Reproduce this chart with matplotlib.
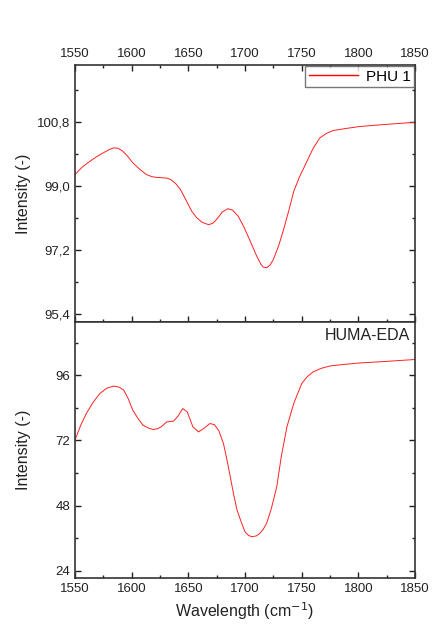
import numpy as np
import matplotlib.pyplot as plt
from matplotlib.ticker import MultipleLocator, FuncFormatter

plt.rcParams['font.family'] = ['Liberation Sans', 'DejaVu Sans']

#Espectro PHU 1
phu_x = [1550, 1556, 1563, 1569, 1575, 1580, 1584, 1588, 1592, 1596, 1601, 1607, 1613, 1618, 1622, 1627,
         1631, 1635, 1639, 1643, 1648, 1653, 1657, 1662, 1668, 1672, 1676, 1680, 1685, 1689, 1694,
         1699, 1704, 1710, 1714, 1716, 1719, 1722, 1725, 1730, 1734, 1739, 1743, 1748, 1754, 1760,
         1766, 1772, 1778, 1790, 1801, 1820, 1850]
phu_y = [99.32, 99.52, 99.69, 99.82, 99.93, 100.02, 100.07, 100.06, 99.98, 99.85, 99.65, 99.47, 99.32,
         99.26, 99.24, 99.23, 99.22, 99.17, 99.06, 98.90, 98.60, 98.29, 98.12, 97.98, 97.91, 97.96,
         98.10, 98.27, 98.36, 98.32, 98.15, 97.85, 97.49, 97.05, 96.80, 96.72, 96.70, 96.77, 96.93,
         97.35, 97.77, 98.35, 98.85, 99.25, 99.65, 100.05, 100.35, 100.48, 100.56, 100.62, 100.67,
         100.72, 100.79]

#Espectro HUMA-EDA
huma_x = [1550, 1555, 1560, 1566, 1572, 1578, 1584, 1589, 1593, 1597, 1601, 1606, 1610, 1615, 1619,
          1623, 1626, 1631, 1637, 1641, 1645, 1649, 1654, 1659, 1664, 1669, 1673, 1677, 1681, 1684,
          1687, 1690, 1693, 1697, 1700, 1703, 1706, 1710, 1713, 1716, 1719, 1723, 1728, 1732, 1737,
          1743, 1750, 1755, 1760, 1767, 1775, 1788, 1801, 1825, 1850]
huma_y = [72.1, 77.5, 81.9, 86.0, 89.3, 91.2, 92.0, 91.6, 90.5, 87.3, 83.1, 79.8, 77.6, 76.5, 76.0,
          76.3, 77.0, 78.8, 79.1, 81.0, 83.7, 82.5, 77.0, 75.1, 76.5, 78.2, 77.8, 75.5, 70.8, 65.0,
          58.6, 52.0, 46.3, 41.5, 38.3, 37.0, 36.5, 36.8, 37.7, 39.2, 41.4, 46.5, 54.9, 66.0, 77.0,
          85.6, 92.9, 95.5, 97.2, 98.5, 99.4, 100.0, 100.5, 101.1, 101.8]

xticks = [1550, 1600, 1650, 1700, 1750, 1800, 1850]

fig = plt.figure(figsize=(4.48, 6.36), dpi=100)
ax1 = fig.add_axes([0.1674, 0.4937, 0.759, 0.4041])
ax2 = fig.add_axes([0.1674, 0.0912, 0.759, 0.4025])

ax1.plot(phu_x, phu_y, color='#ff2020', lw=0.7, label='PHU 1')
ax2.plot(huma_x, huma_y, color='#ff2020', lw=0.7)

for ax in (ax1, ax2):
    ax.set_xlim(1550, 1850)
    ax.set_xticks(xticks)
    ax.xaxis.set_minor_locator(MultipleLocator(25))
    ax.tick_params(which='both', direction='in', labelsize=9.5, width=1, colors='#222222')
    ax.tick_params(which='major', length=4)
    ax.tick_params(which='minor', length=2.5)
    for s in ax.spines.values():
        s.set_linewidth(1.2)
        s.set_color('#333333')
    ax.set_ylabel('Intensity (-)', fontsize=11.5, color='#222222')
    ax.yaxis.set_label_coords(-0.13, 0.5)

#Panel superior
ax1.set_ylim(95.175, 102.4)
ax1.set_yticks([95.4, 97.2, 99.0, 100.8])
ax1.yaxis.set_minor_locator(MultipleLocator(0.9))
ax1.yaxis.set_major_formatter(FuncFormatter(lambda v, p: ('%.1f' % v).replace('.', ',')))
ax1.tick_params(which='both', top=True, bottom=True, right=True, labeltop=True, labelbottom=False)
leg = ax1.legend(loc='upper right', fontsize=11, frameon=True, fancybox=False,
                 borderaxespad=0.05, handlelength=3.2, borderpad=0.25, handletextpad=0.5)
leg.get_frame().set_edgecolor('#555555')
leg.get_frame().set_linewidth(1.0)
for ln in leg.get_lines():
    ln.set_color('red')
    ln.set_linewidth(1.0)

#Panel inferior
ax2.set_ylim(21.3, 115.6)
ax2.set_yticks([24, 48, 72, 96])
ax2.yaxis.set_minor_locator(MultipleLocator(12))
ax2.tick_params(which='both', bottom=True, right=True, top=False)
ax2.text(0.985, 0.975, 'HUMA-EDA', transform=ax2.transAxes, ha='right', va='top',
         fontsize=11.5, color='#222222')
ax2.set_xlabel('Wavelength (cm$^{-1}$)', fontsize=11.5, color='#222222')

fig.savefig('out.png', dpi=100)
